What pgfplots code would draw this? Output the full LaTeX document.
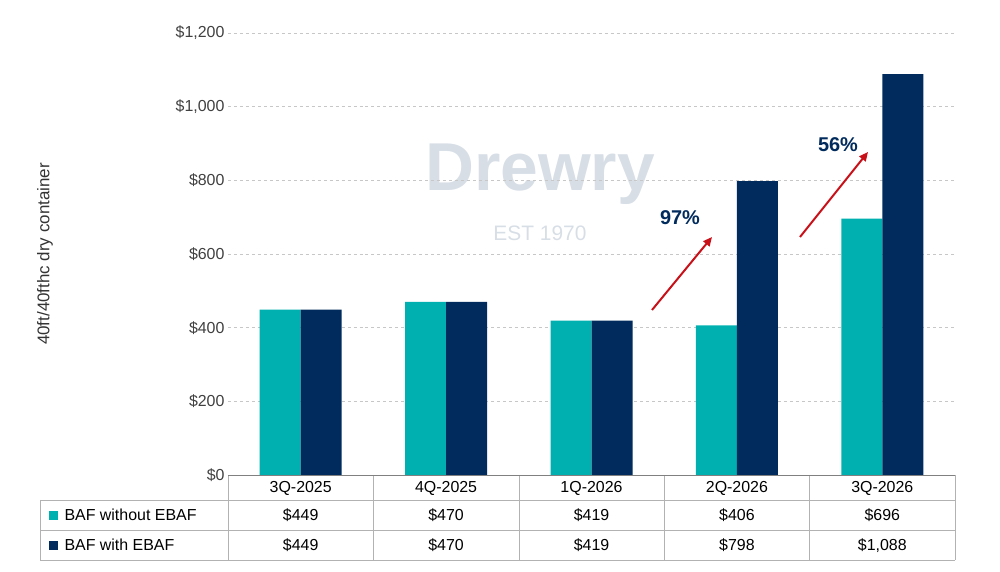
\documentclass[border=0pt]{standalone}
\usepackage{pgfplots}
\pgfplotsset{compat=1.18}
\usetikzlibrary{arrows.meta}
\usepackage{fontspec}
\setmainfont{Liberation Sans}
\definecolor{teal1}{RGB}{0,176,176}
\definecolor{navy1}{RGB}{0,43,92}
\definecolor{arr}{RGB}{200,16,24}
\definecolor{wm}{RGB}{215,222,230}
\begin{document}
\begin{tikzpicture}[x=1bp,y=1bp]
\path[use as bounding box] (0,0) rectangle (1000,572);
% watermark
\node[text=wm,font=\bfseries\fontsize{68}{68}\selectfont] at (540,398) {Drewry};
\node[text=wm,font=\fontsize{21}{21}\selectfont] at (540,339) {EST 1970};
\begin{axis}[at={(228bp,97bp)},anchor=south west,scale only axis,
 width=727bp,height=442bp,
 ybar=0pt,bar width=41bp,
 xmin=-0.5,xmax=4.5,ymin=0,ymax=1200,
 xtick=\empty,ytick={0,200,...,1200},
 yticklabel={\$\pgfmathprintnumber{\tick}},
 /pgf/number format/assume math mode=true,
 /pgf/number format/1000 sep={,},
 ticklabel style={font=\fontsize{16}{16}\selectfont,text=black!75},
 major tick length=0pt,
 ymajorgrids, grid style={dashed,black!22},
 axis line style={draw=none},
 axis x line*=bottom,
 clip=false]
\addplot[fill=teal1,draw=none] coordinates {(0,449)(1,470)(2,419)(3,406)(4,696)};
\addplot[fill=navy1,draw=none] coordinates {(0,449)(1,470)(2,419)(3,798)(4,1088)};
\end{axis}
\node[rotate=90,font=\fontsize{17}{17}\selectfont,text=black!80] at (45,318) {40ft/40fthc dry container};
% table
\draw[black!30] (40,72)--(955,72) (40,42)--(955,42) (40,12)--(955,12);
\draw[black!30] (40,72)--(40,12);
\foreach \i in {0,...,5}{\draw[black!30] ({228+145.4*\i},97)--({228+145.4*\i},12);}
\draw[black!50] (228,97)--(955,97);
\tikzset{tf/.style={font=\fontsize{16}{16}\selectfont,anchor=base}}
\foreach \c [count=\i from 0] in {3Q-2025,4Q-2025,1Q-2026,2Q-2026,3Q-2026}
 \node[tf] at ({300.7+145.4*\i},79) {\c};
\foreach \c [count=\i from 0] in {\$449,\$470,\$419,\$406,\$696}
 \node[tf] at ({300.7+145.4*\i},51) {\c};
\foreach \c [count=\i from 0] in {\$449,\$470,\$419,\$798,\$1{,}088}
 \node[tf] at ({300.7+145.4*\i},21) {\c};
\fill[teal1] (49,52) rectangle (58,61);
\fill[navy1] (49,22) rectangle (58,31);
\node[tf,anchor=base west] at (61,51) {BAF without EBAF};
\node[tf,anchor=base west] at (61,21) {BAF with EBAF};
% arrows
\draw[arr,line width=2pt,-{Triangle[length=9bp,width=8bp]}] (652,262)--(712,335);
\draw[arr,line width=2pt,-{Triangle[length=9bp,width=8bp]}] (800,335)--(868,420);
\node[text=navy1,font=\bfseries\fontsize{20}{20}\selectfont] at (680,354) {97\%};
\node[text=navy1,font=\bfseries\fontsize{20}{20}\selectfont] at (838,427) {56\%};
\end{tikzpicture}
\end{document}
